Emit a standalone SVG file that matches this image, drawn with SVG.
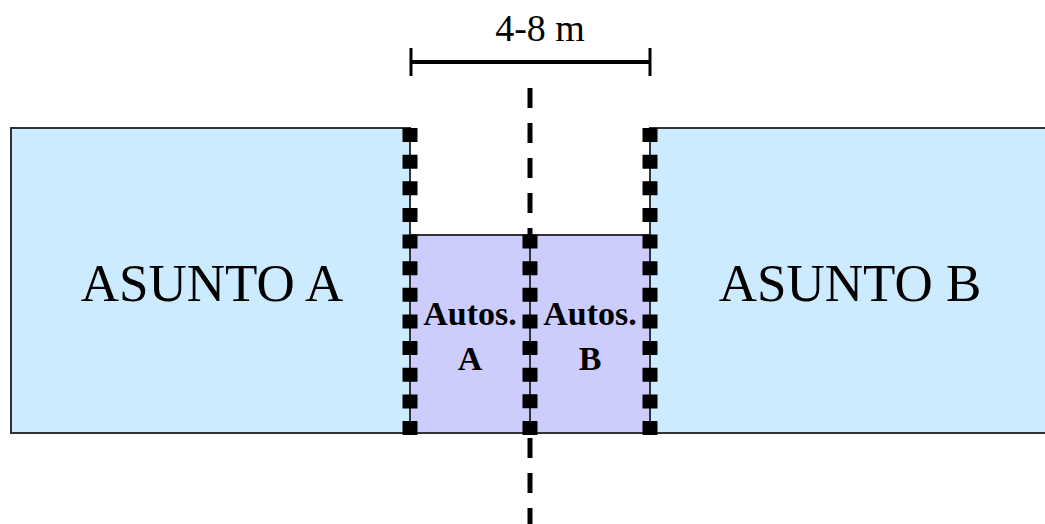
<svg xmlns="http://www.w3.org/2000/svg" width="1045" height="524" viewBox="0 0 1045 524">
  <style>
    .lot { fill: #cdebfe; stroke: #333; stroke-width: 2; }
    .setback { fill: #ccccfd; stroke: #333; stroke-width: 2; }
    .big { font-family: "Liberation Serif", "Times New Roman", serif; font-size: 53px; fill: #000; text-anchor: middle; }
    .small { font-family: "Liberation Serif", "Times New Roman", serif; font-size: 34px; font-weight: bold; fill: #000; text-anchor: middle; }
    .dim { font-family: "Liberation Serif", "Times New Roman", serif; font-size: 38px; fill: #000; text-anchor: middle; }
    .wall-core { stroke: #333; stroke-width: 2; }
    .wall-blocks { stroke: #000; stroke-width: 15; stroke-dasharray: 14 12.64; }
    .axis { stroke: #000; stroke-width: 5; stroke-dasharray: 20 15; }
  </style>

  <!-- building plots -->
  <g id="asunto-a">
    <rect class="lot" x="11" y="128" width="399" height="305"/>
    <text class="big" x="212" y="301">ASUNTO A</text>
  </g>
  <g id="asunto-b">
    <rect class="lot" x="650" y="128" width="400" height="305"/>
    <text class="big" x="850" y="301">ASUNTO B</text>
  </g>

  <!-- garages between the plots -->
  <g id="autos-a">
    <rect class="setback" x="410" y="235" width="120" height="198"/>
  </g>
  <g id="autos-b">
    <rect class="setback" x="530" y="235" width="120" height="198"/>
  </g>

  <!-- centre axis and block walls -->
  <g id="connectors">
    <line class="axis" x1="530" y1="88" x2="530" y2="235"/>
    <line class="axis" x1="530" y1="438" x2="530" y2="524"/>
    <line class="wall-core" x1="410" y1="128" x2="410" y2="433"/>
    <line class="wall-core" x1="650" y1="128" x2="650" y2="433"/>
    <line class="wall-core" x1="530" y1="235" x2="530" y2="433"/>
    <line class="wall-blocks" x1="410" y1="128" x2="410" y2="435"/>
    <line class="wall-blocks" x1="650" y1="128" x2="650" y2="435"/>
    <line class="wall-blocks" x1="530" y1="234.5" x2="530" y2="435"/>
  </g>

  <!-- garage labels -->
  <g id="autos-labels">
    <text class="small" x="470" y="325">Autos.</text>
    <text class="small" x="470" y="370">A</text>
    <text class="small" x="590" y="325">Autos.</text>
    <text class="small" x="590" y="370">B</text>
  </g>

  <!-- width dimension -->
  <g id="dimension">
    <line x1="411" y1="62" x2="650" y2="62" stroke="#000" stroke-width="4"/>
    <line x1="411" y1="48" x2="411" y2="76" stroke="#000" stroke-width="3"/>
    <line x1="650" y1="48" x2="650" y2="76" stroke="#000" stroke-width="3"/>
    <text class="dim" x="540" y="41">4-8 m</text>
  </g>
</svg>
